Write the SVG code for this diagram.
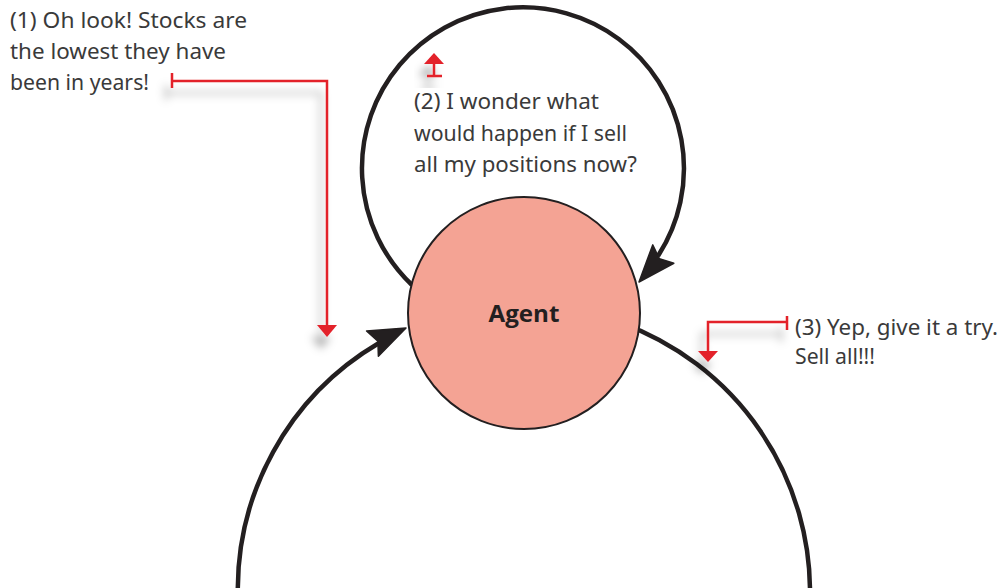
<svg xmlns="http://www.w3.org/2000/svg" width="1004" height="588" viewBox="0 0 1004 588">
<style>
.loop{fill:none;stroke:#231f20;stroke-width:4.5}
.note{fill:#3a3a3a;font-family:"Noto Sans","Open Sans",sans-serif;font-size:22px}
.red{fill:none;stroke:#e3202a;stroke-width:2.5}
.redf{fill:#e3202a}
.lbl{fill:#231f20;font-family:"Open Sans","Liberation Sans",sans-serif;font-weight:bold;font-size:23px}
</style>
<defs>
<path id="ah" d="M0,0 L-37,-14 L-31,0 L-37,14 Z" fill="#231f20" stroke="#231f20" stroke-width="1.5" stroke-linejoin="round"/>
<filter id="sh" x="-50%" y="-50%" width="200%" height="200%">
<feDropShadow dx="-6" dy="12" stdDeviation="4" flood-color="#000" flood-opacity="0.3"/>
</filter>
</defs>
<g id="connectors">
<path class="loop" d="M412,285 A161,161 0 1 1 658,256"/>
<use href="#ah" transform="translate(639,282) rotate(131)"/>
<path class="loop" d="M238,600 A286,286 0 0 1 379,343"/>
<use href="#ah" transform="translate(406,328) rotate(-25)"/>
<path class="loop" d="M620,322.6 A286,286 0 0 1 809.9,600"/>
</g>
<g id="agent">
<circle cx="524" cy="313" r="116" fill="#f4a394" stroke="#231f20" stroke-width="2"/>
<text class="lbl" x="524" y="322" text-anchor="middle" textLength="71" lengthAdjust="spacingAndGlyphs">Agent</text>
</g>
<g id="note1">
<text class="note"><tspan x="10" y="28" textLength="237" lengthAdjust="spacingAndGlyphs">(1) Oh look! Stocks are</tspan><tspan x="10" y="59" textLength="216" lengthAdjust="spacingAndGlyphs">the lowest they have</tspan><tspan x="10" y="90" textLength="139" lengthAdjust="spacingAndGlyphs">been in years!</tspan></text>
<g filter="url(#sh)">
<path class="red" d="M172,73 V88 M172,81 H327 V327"/>
<path class="redf" d="M317,325 H337 L327,337 Z"/>
</g>
</g>
<g id="note2">
<text class="note"><tspan x="414" y="109" textLength="185" lengthAdjust="spacingAndGlyphs">(2) I wonder what</tspan><tspan x="414" y="141" textLength="213" lengthAdjust="spacingAndGlyphs">would happen if I sell</tspan><tspan x="414" y="172" textLength="223" lengthAdjust="spacingAndGlyphs">all my positions now?</tspan></text>
<g filter="url(#sh)">
<path class="red" d="M427,76 H442 M434,76 V62"/>
<path class="redf" d="M424,64 H444 L434,53 Z"/>
</g>
</g>
<g id="note3">
<text class="note"><tspan x="795" y="335" textLength="203" lengthAdjust="spacingAndGlyphs">(3) Yep, give it a try.</tspan><tspan x="795" y="364" textLength="80" lengthAdjust="spacingAndGlyphs">Sell all!!!</tspan></text>
<g filter="url(#sh)">
<path class="red" d="M787,316 V330 M787,322 H708 V352"/>
<path class="redf" d="M698,351 H718 L708,362 Z"/>
</g>
</g>
</svg>
